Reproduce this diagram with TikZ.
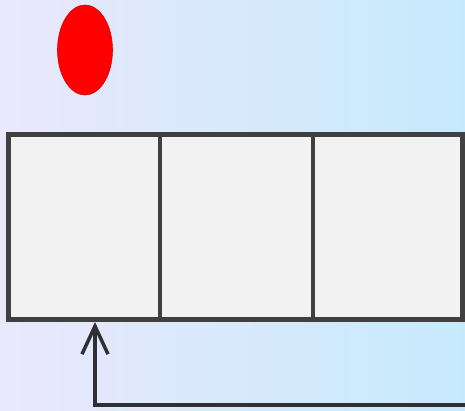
\documentclass[tikz,border=0pt]{standalone}
\usetikzlibrary{shapes.geometric,arrows.meta}
\definecolor{bgleft}{RGB}{234,232,252}
\definecolor{bgmid}{RGB}{224,230,252}
\definecolor{bgright}{RGB}{198,234,252}
\definecolor{cellfill}{RGB}{242,242,242}
\definecolor{edge}{RGB}{64,64,64}
\definecolor{arrowcol}{RGB}{48,48,52}
\tikzset{
  cellbox/.style={draw=edge, fill=cellfill, line width=4pt, inner sep=0pt, outer sep=0pt, minimum height=185pt},
  outerbox/.style={draw=edge, line width=5pt},
  feedback/.style={draw=arrowcol, line width=3.5pt, -{Straight Barb[length=28pt,width=26pt,line width=3.5pt]}},
  ball/.style={ellipse, fill=red, draw=red!85!black, line width=0.6pt, minimum width=55pt, minimum height=90pt, inner sep=0pt}
}
\begin{document}
\begin{tikzpicture}[x=1pt,y=-1pt]
\useasboundingbox (0,0) rectangle (465,410);
\shade[left color=bgleft, middle color=bgmid, right color=bgright] (0,0) rectangle (465,410);
\node[ball] (dot) at (85,50) {};
\node[cellbox, minimum width=152pt] (c1) at (84,226.5) {};
\node[cellbox, minimum width=153pt] (c2) at (236.5,226.5) {};
\node[cellbox, minimum width=149pt] (c3) at (387.5,226.5) {};
\draw[outerbox] (c1.north west) rectangle (c3.south east);
\coordinate (start) at (466,405);
\coordinate (tip) at (95,322);
\draw[feedback] (start) -| (tip);
\end{tikzpicture}
\end{document}
